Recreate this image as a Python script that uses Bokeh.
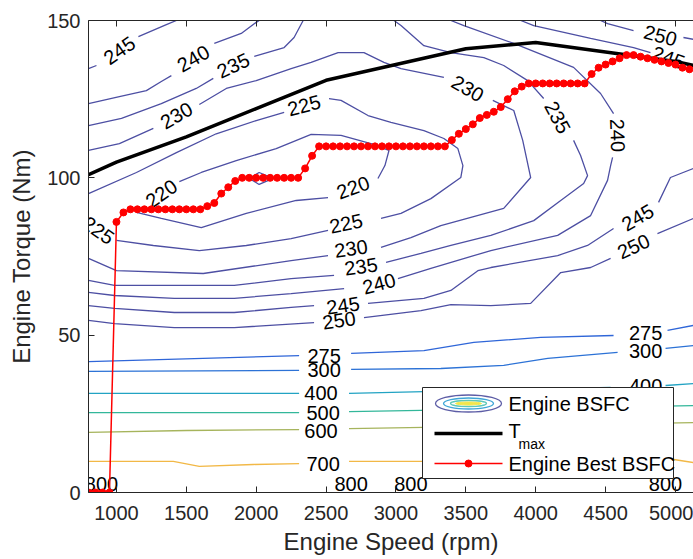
from bokeh.plotting import figure
from bokeh.models import Range1d, FixedTicker, LinearAxis
from bokeh.core.properties import value
from bokeh.embed import file_html
from bokeh.resources import INLINE

nan = float("nan")

# ---------------- data (speed in rpm, torque in Nm) ----------------
x_ticks = [1000, 1500, 2000, 2500, 3000, 3500, 4000, 4500, 5000]
y_ticks = [0, 50, 100, 150]

# BSFC contour lines (g/kWh); nan separates segments / label gaps
c215_speed = [1950, 2021, 2121, 2021, 1950]
c215_torque = [99.8, 101.7, 99.8, 97.9, 99.8]

c220_speed = [1450, 1607, 1857, 2143, 2393, 2607, 2821, 2950, 2921, 2871, nan,
              2514, 2286, 1929, 1607, 1321, 1143, 1193]
c220_torque = [98.8, 101.7, 105.5, 109.3, 113.8, 113.5, 110.9, 108.7, 103.9, 99.8, nan,
               93.7, 92.8, 88.7, 84.2, 87.1, 89.0, 90.9]

c225_speed = [800, 1143, 1429, 1714, 2000, 2200, nan,
              2521, 2607, 2800, 2964, 3200, 3343, 3443, 3479, 3464, 3250, 3036, 2893, nan,
              2514, 2250, 1929, 1593, 1264, 1000]
c225_torque = [95.0, 101.7, 108.0, 114.0, 118.2, 120.8, nan,
               125.2, 124.6, 119.8, 117.6, 115.0, 112.5, 109.3, 103.9, 100.1, 93.4, 88.7, 87.1, nan,
               83.3, 80.7, 78.5, 76.9, 78.5, 80.1]

c230_speed = [800, 1021, 1264, nan,
              1593, 1786, 2000, 2250, 2393, 2586, 2771, 2914, 3036, 3343, nan,
              3693, 3843, 3907, 3964, 3771, 3321, 3107, 2893, nan,
              2514, 2250, 1621, 1000, 800]
c230_torque = [108.7, 110.9, 115.7, nan,
               123.3, 128.4, 130.9, 134.7, 136.7, 139.8, 139.8, 136.7, 134.7, 131.9, nan,
               124.6, 121.4, 111.9, 100.1, 90.3, 84.8, 81.0, 77.9, nan,
               75.3, 73.7, 69.6, 70.5, 74.4]

c235_speed = [800, 1036, 1321, 1571, 1693, nan,
              1986, 2200, 2271, 2336, nan,
              2986, 3036, 3200, 3393, 3629, 3771, 3943, 4057, nan,
              4271, 4321, 4371, 4343, 4179, 3986, 3679, 3393, 3179, 2929, nan,
              2557, 2250, 1843, 1414, 986, 800]
c235_torque = [116.6, 118.9, 123.6, 128.4, 131.6, nan,
               138.6, 141.4, 144.6, 150.0, nan,
               150.0, 148.4, 142.0, 139.8, 138.2, 135.7, 130.9, 125.2, nan,
               111.9, 107.1, 100.7, 98.2, 92.8, 86.4, 81.7, 78.5, 76.0, 73.1, nan,
               69.0, 68.0, 65.8, 65.8, 65.8, 67.4]

c240_speed = [800, 1021, 1214, 1321, 1393, nan,
              1700, 1893, 2000, 2021, nan,
              3393, 3486, 3843, 4271, 4464, 4557, nan,
              4550, 4536, 4514, 4393, 4157, 3679, 3250, 3014, nan,
              2629, 2250, 1843, 1414, 986, 800]
c240_torque = [123.6, 125.8, 127.7, 130.6, 132.5, nan,
               142.7, 145.9, 149.4, 150.0, nan,
               150.0, 148.4, 142.7, 135.1, 126.8, 120.4, nan,
               106.5, 103.9, 99.2, 88.0, 81.7, 76.9, 71.2, 68.0, nan,
               64.8, 63.2, 61.7, 61.7, 62.6, 63.6]

c245_speed = [800, 857, nan,
              1157, 1357, 1429, nan,
              3893, 3986, 4393, 4700, 4821, nan,
              5107, 5129, nan,
              5129, 4964, 4879, nan,
              4557, 4371, 4157, 3679, 3586, 3393, 3200, 2800, nan,
              2414, 2250, 1843, 1414, 986, 800]
c245_torque = [134.7, 135.7, nan,
               144.9, 148.7, 150.0, nan,
               150.0, 148.4, 144.3, 141.4, 139.8, nan,
               136.0, 135.4, nan,
               103.0, 100.1, 92.2, nan,
               83.9, 78.5, 75.3, 71.5, 70.5, 64.2, 61.7, 60.1, nan,
               59.4, 58.8, 57.2, 57.2, 58.5, 59.4]

c250_speed = [4464, 4514, 4700, nan,
              5057, 5129, nan,
              5129, 4871, nan,
              4536, 4393, 4179, 3964, 3679, 3393, 3179, 2771, nan,
              2414, 1843, 1414, 986, 800]
c250_torque = [150.0, 149.0, 146.8, nan,
               144.6, 144.0, nan,
               87.1, 82.3, nan,
               74.4, 71.5, 69.9, 60.1, 59.4, 59.7, 57.8, 55.6, nan,
               54.0, 52.4, 52.4, 53.7, 54.7]

c275_speed = [800, 2307, nan, 2679, 3200, 3557, 4036, 4557, nan, 4943, 5129]
c275_torque = [41.6, 43.5, nan, 44.2, 45.1, 47.7, 49.3, 49.9, nan, 51.5, 53.1]

c300_speed = [800, 2307, nan, 2679, 3321, 3771, 4086, 4586, nan, 4929, 5129]
c300_torque = [38.5, 38.8, nan, 39.1, 39.4, 40.4, 42.6, 44.5, nan, 45.8, 46.7]

c400_speed = [800, 2307, nan, 2664, 4536, nan, 4929, 5129]
c400_torque = [31.5, 31.5, nan, 31.5, 33.4, nan, 34.0, 34.6]

c500_speed = [800, 2307, nan, 2664, 3179, 5129]
c500_torque = [25.4, 25.4, nan, 25.7, 26.1, 27.6]

c600_speed = [800, 1500, 2307, nan, 2664, 3200, 5129]
c600_torque = [19.1, 19.7, 20.0, nan, 20.3, 20.7, 22.2]

c700_speed = [800, 1407, 1593, 1979, 2307, nan, 2664, 3200, 4943, 5129]
c700_torque = [9.9, 9.9, 8.3, 8.9, 9.2, nan, 9.9, 9.9, 10.8, 9.5]

# contour labels inside the frame
label_text = ["245", "240", "235", "230", "225", "230", "235", "240", "250", "245",
              "220", "225", "220", "225", "230", "235", "240", "245", "250", "245", "250",
              "275", "300", "400", "500", "600", "700", "275", "300", "400"]
label_speed = [1021, 1550, 1836, 1429, 2343, 3514, 4157, 4586, 4893, 4950,
               1321, 871, 2693, 2643, 2679, 2750, 2879, 2621, 2593, 4729, 4700,
               2486, 2486, 2464, 2479, 2464, 2479, 4786, 4786, 4786]
label_torque = [140.5, 137.9, 135.7, 119.8, 123.0, 128.4, 119.2, 113.5, 145.2, 138.2,
                95.0, 83.3, 96.9, 85.5, 77.5, 71.8, 66.4, 59.4, 54.7, 87.4, 78.2,
                43.5, 38.8, 31.5, 25.4, 19.7, 9.2, 50.8, 45.1, 34.0]
label_angle = [35, 30, 25, 30, 15, -30, -62, -88, -15, -20,
               35, -35, 20, 12, 8, 8, 15, 8, 8, 30, 25,
               0, 0, 0, 0, 0, 0, 0, 0, 0]

# labels of the 800 contour, which runs along zero torque
zero_label_text = ["800", "800", "800", "800"]
zero_label_speed = [893, 2679, 3107, 4929]
zero_label_torque = [0, 0, 0, 0]

# maximum torque curve
tmax_speed = [800, 1000, 1500, 2000, 2500, 3000, 3500, 4000, 4500, 5000, 5200]
tmax_torque = [101, 105, 113, 122, 131, 136, 141, 143, 140, 137, 135]

# best BSFC operating line
best_speed = [800, 850, 900, 950, 1000, 1050, 1100, 1150, 1200, 1250, 1300, 1350,
              1400, 1450, 1500, 1550, 1600, 1650, 1700, 1750, 1800, 1850, 1900, 1950,
              2000, 2050, 2100, 2150, 2200, 2250, 2300, 2350, 2400, 2450, 2500, 2550,
              2600, 2650, 2700, 2750, 2800, 2850, 2900, 2950, 3000, 3050, 3100, 3150,
              3200, 3250, 3300, 3350, 3400, 3450, 3500, 3550, 3600, 3650, 3700, 3750,
              3800, 3850, 3900, 3950, 4000, 4050, 4100, 4150, 4200, 4250, 4300, 4350,
              4400, 4450, 4500, 4550, 4600, 4650, 4700, 4750, 4800, 4850, 4900, 4950,
              5000, 5050, 5100]
best_torque = [0, 0, 0, 0, 86, 89, 90, 90, 90, 90, 90, 90,
               90, 90, 90, 90, 90, 91, 92, 95, 97, 99, 100, 100,
               100, 100, 100, 100, 100, 100, 100, 103, 107, 110, 110, 110,
               110, 110, 110, 110, 110, 110, 110, 110, 110, 110, 110, 110,
               110, 110, 110, 110, 112, 114, 115.5, 117, 119, 120, 121, 122.5,
               125, 127.5, 129, 130, 130, 130, 130, 130, 130, 130, 130, 130,
               133, 135, 136, 137, 138, 139, 139, 138.5, 138, 137.5, 137, 136.5,
               136, 135, 134.5]

FONT = "Liberation Sans"
DARK = "#262626"

p = figure(width=693, height=559, x_range=Range1d(800, 5129), y_range=Range1d(0, 150),
           output_backend="svg", toolbar_location=None,
           min_border_left=88, min_border_right=0, min_border_top=20, min_border_bottom=67,
           x_axis_label="Engine Speed (rpm)", y_axis_label="Engine Torque (Nm)")
p.outline_line_color = None
p.grid.visible = False
p.background_fill_color = "white"
p.border_fill_color = "white"

for ax in (p.xaxis[0], p.yaxis[0]):
    ax.major_tick_in = 6
    ax.major_tick_out = 0
    ax.minor_tick_line_color = None
    ax.axis_line_color = DARK
    ax.major_tick_line_color = DARK
    ax.major_label_text_font = FONT
    ax.major_label_text_font_size = "20px"
    ax.major_label_text_color = DARK
    ax.axis_label_text_font = FONT
    ax.axis_label_text_font_size = "24px"
    ax.axis_label_text_font_style = "normal"
    ax.axis_label_text_color = DARK
p.xaxis.ticker = FixedTicker(ticks=x_ticks)
p.yaxis.ticker = FixedTicker(ticks=y_ticks)
p.xaxis.major_label_standoff = 13
p.xaxis.axis_label_standoff = 5
p.yaxis.major_label_standoff = 8
p.yaxis.axis_label_standoff = 9

top = LinearAxis(ticker=FixedTicker(ticks=x_ticks), major_tick_in=6, major_tick_out=0,
                 minor_tick_line_color=None, axis_line_color=DARK, major_tick_line_color=DARK,
                 major_label_text_font_size="0px", major_label_text_alpha=0)
p.add_layout(top, "above")

BLUE = "#4d4fa3"
contours = [
    (c215_speed, c215_torque, BLUE),
    (c220_speed, c220_torque, BLUE),
    (c225_speed, c225_torque, BLUE),
    (c230_speed, c230_torque, BLUE),
    (c235_speed, c235_torque, BLUE),
    (c240_speed, c240_torque, BLUE),
    (c245_speed, c245_torque, BLUE),
    (c250_speed, c250_torque, BLUE),
    (c275_speed, c275_torque, "#2f66d8"),
    (c300_speed, c300_torque, "#2c72d6"),
    (c400_speed, c400_torque, "#22a3c3"),
    (c500_speed, c500_torque, "#33b79a"),
    (c600_speed, c600_torque, "#a6b45c"),
    (c700_speed, c700_torque, "#f2b846"),
]
for xs, ys, col in contours:
    p.line(xs, ys, line_color=col, line_width=1.3)

p.text(x=label_speed, y=label_torque, text=label_text, angle=label_angle, angle_units="deg",
       text_font=value(FONT), text_font_size="20px", text_color="black",
       text_align="center", text_baseline="middle")
# the frame clips text, so these sit just above the zero-torque axis line
p.text(x=zero_label_speed, y=zero_label_torque, text=zero_label_text, y_offset=-9,
       text_font=value(FONT), text_font_size="20px", text_color="black",
       text_align="center", text_baseline="middle")

p.line(tmax_speed, tmax_torque, line_color="black", line_width=3.5)

p.line(best_speed, best_torque, line_color="red", line_width=1.5)
p.scatter(best_speed, best_torque, size=7, fill_color="red", line_color="red")

# ---------------- legend (placed in the lower right of the frame) ----------------
def sx(px):
    return 800 + (px - 88) * (5129 - 800) / 605.0

def sy(py):
    return (492 - py) * 150.0 / 472.0

p.quad(left=[sx(422)], right=[sx(673)], top=[sy(387)], bottom=[sy(478)],
       fill_color="white", line_color=DARK, line_width=1)
# contour icon
p.ellipse(x=[sx(468)], y=[sy(403)], width=[66], height=[17], width_units="screen",
          height_units="screen", fill_color=None, line_color="#5d5da6", line_width=1.3)
p.ellipse(x=[sx(468)], y=[sy(403)], width=[50], height=[11], width_units="screen",
          height_units="screen", fill_color=None, line_color="#3fa6d6", line_width=1.3)
p.ellipse(x=[sx(468)], y=[sy(403)], width=[36], height=[6], width_units="screen",
          height_units="screen", fill_color=None, line_color="#5cc8b8", line_width=1.3)
p.ellipse(x=[sx(468)], y=[sy(403)], width=[26], height=[3], width_units="screen",
          height_units="screen", fill_color="#f2e64a", line_color="#f2e64a", line_width=1)
p.line([sx(434), sx(502)], [sy(433), sy(433)], line_color="black", line_width=3.5)
p.line([sx(434), sx(502)], [sy(463), sy(463)], line_color="red", line_width=1.5)
p.scatter([sx(468)], [sy(463)], size=7, fill_color="red", line_color="red")

p.text(x=[sx(508), sx(508), sx(508)], y=[sy(403), sy(430), sy(463)],
       text=["Engine BSFC", "T", "Engine Best BSFC"],
       text_font=value(FONT), text_font_size="20px", text_color="black",
       text_align="left", text_baseline="middle")
p.text(x=[sx(518)], y=[sy(443)], text=["max"], text_font=value(FONT),
       text_font_size="14px", text_color="black", text_align="left", text_baseline="middle")

open("out.html", "w").write(file_html(p, INLINE))
